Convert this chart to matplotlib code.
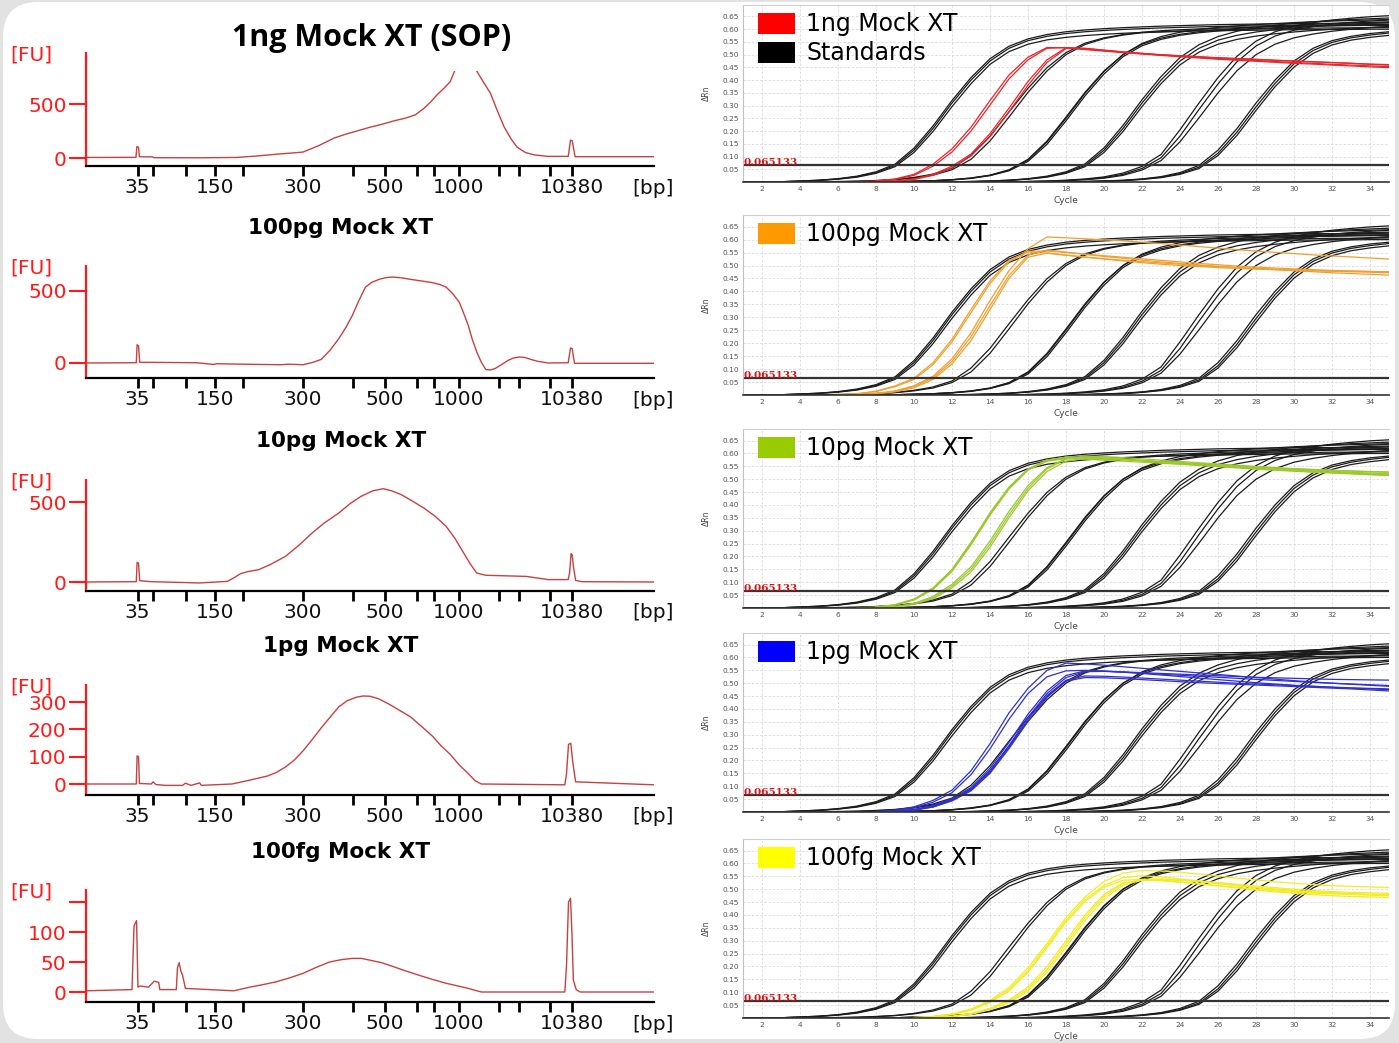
import numpy as np
import matplotlib.pyplot as plt
from matplotlib.patches import FancyBboxPatch, Rectangle

# ---------------- Bioanalyzer traces (migration position vs FU) ----------------
LADDER_BP = [35, 50, 100, 150, 200, 300, 400, 500, 600, 700, 1000, 2000, 3000, 7000, 10380]
LADDER_POS = [9.07, 11.74, 17.55, 22.64, 27.69, 38.2, 46.94, 52.68, 58.35, 61.25, 65.65, 72.73, 76.27, 81.76, 85.55]
LABELED_BP = [35, 150, 300, 500, 1000, 10380]

EPG_1NG_POS = [0, 8.8, 8.95, 9.25, 9.4, 11.0, 11.6, 12.0, 20, 26.4, 30, 33.5, 36, 38.2, 41, 43.7, 45.7, 47.7,
               50, 52.3, 54.3, 56.3, 58, 59.5, 60.7, 61.8, 63, 64.1, 64.9, 66.8, 68.8, 70.0, 71.2, 72.4,
               73.6, 74.8, 75.9, 77.4, 79.0, 81.4, 84.9, 85.3, 85.6, 86.1, 100]
EPG_1NG_FU = [5, 6, 105, 100, 12, 10, 12, 3, 2, 5, 18, 35, 45, 55, 115, 185, 220, 250,
              285, 315, 345, 370, 400, 460, 520, 585, 645, 705, 805, 1000, 805, 700, 600, 440,
              290, 180, 100, 50, 28, 15, 15, 165, 160, 12, 12]

EPG_100PG_POS = [0, 8.85, 9.0, 9.25, 9.45, 19.4, 22.5, 23.0, 27, 34.5, 35.5, 38.2, 40, 41.4, 43, 44.5, 45.8,
                 46.9, 48, 49.2, 50.3, 51.6, 52.7, 53.9, 55.5, 57.1, 59, 61.0, 62.3, 63.4, 64.6, 65.7,
                 66.5, 67.3, 68.0, 68.8, 69.6, 70.4, 71.2, 72.0, 73.2, 74.3, 75.3, 76.3, 77.3, 78.3,
                 79.5, 81.4, 84.9, 85.3, 85.6, 86.0, 100]
EPG_100PG_FU = [0, 2, 127, 120, 5, 2, -10, -5, -8, -12, -8, -12, 5, 25, 90, 169, 250,
                331, 430, 527, 560, 581, 592, 597, 592, 581, 570, 558, 545, 527, 480, 423,
                345, 261, 165, 76, 5, -46, -48, -39, -10, 18, 35, 42, 38, 25,
                12, 0, 2, 104, 100, -2, -2]

EPG_10PG_POS = [0, 8.85, 9.0, 9.25, 9.45, 11.5, 20, 24.9, 26.0, 27.2, 28.5, 30.4, 32.5, 35.1, 37.5, 39.8,
                42, 44.5, 46.5, 48.4, 50.5, 52.3, 53.8, 55.5, 57.5, 59.5, 61.5, 63.4, 65.0, 66.5, 67.7,
                68.8, 70.4, 77.5, 81.4, 84.9, 85.15, 85.4, 85.6, 85.8, 86.2, 87.3, 100]
EPG_10PG_FU = [0, 2, 123, 118, 8, 2, -6, 4, 25, 52, 65, 77, 110, 160, 230, 306,
               370, 431, 490, 535, 570, 583, 570, 546, 505, 462, 410, 348, 270, 181, 110,
               56, 42, 35, 15, 15, 60, 177, 170, 100, 10, 2, 0]

EPG_1PG_POS = [0, 8.85, 9.0, 9.25, 9.4, 11.5, 11.8, 12.3, 14, 17.0, 17.5, 18.5, 20.0, 20.3, 25.7, 28.8,
               31.9, 33.5, 35.1, 36.7, 38.2, 39.8, 41.4, 43.0, 44.5, 46.0, 47.7, 48.8, 50.0, 51.5, 53.2,
               55.0, 57.1, 59.0, 61.0, 62.5, 64.1, 65.7, 67.3, 68.5, 69.6,
               84.3, 84.6, 84.95, 85.35, 85.7, 86.2, 100]
EPG_1PG_FU = [0, 0, 103, 100, 2, 0, 8, -2, -5, -5, 3, -5, 4, -5, 0, 14,
              29, 42, 62, 88, 121, 162, 205, 245, 282, 305, 318, 322, 321, 312, 294,
              272, 246, 212, 175, 140, 109, 70, 38, 12, 0,
              -3, 38, 145, 149, 80, 8, -3]

EPG_100FG_POS = [0, 8.1, 8.45, 8.9, 9.15, 9.5, 11.0, 11.8, 12.0, 12.8, 13.0, 15.9, 16.1, 16.4, 16.7, 17.0,
                 17.5, 26, 28.8, 31, 33.5, 36, 38.2, 40.5, 42.9, 45, 46.9, 48.5, 50.0, 52, 53.9, 56, 58.6,
                 61, 63.2, 65.5, 67.3, 69.6,
                 84.3, 84.6, 84.95, 85.3, 85.55, 85.8, 86.3, 87.0, 100]
EPG_100FG_FU = [2, 4, 110, 119, 8, 10, 8, 16, 18, 16, 4, 4, 40, 49, 35, 28,
                6, 2, 8, 12, 17, 24, 31, 41, 50, 54, 56, 56, 53, 49, 43, 36, 28,
                21, 15, 10, 6, 0,
                0, 45, 150, 156, 99, 20, 4, 0, 0]

# ---------------- qPCR amplification (delta Rn per cycle) ----------------
CYCLES = list(range(1, 36))
THRESHOLD = 0.065133
DRN_TICKS = [0.05, 0.10, 0.15, 0.20, 0.25, 0.30, 0.35, 0.40, 0.45, 0.50, 0.55, 0.60, 0.65]
CYCLE_TICKS = [2, 4, 6, 8, 10, 12, 14, 16, 18, 20, 22, 24, 26, 28, 30, 32, 34]

STD_CT9 = [
    [0.000, 0.000, 0.001, 0.004, 0.007, 0.012, 0.021, 0.037, 0.065, 0.125, 0.210, 0.310, 0.400, 0.475, 0.525,
     0.555, 0.572, 0.583, 0.590, 0.595, 0.599, 0.602, 0.605, 0.607, 0.609, 0.611, 0.612, 0.613, 0.614, 0.615,
     0.616, 0.616, 0.617, 0.617, 0.618],
    [0.000, 0.000, 0.001, 0.004, 0.007, 0.013, 0.023, 0.040, 0.070, 0.133, 0.220, 0.320, 0.410, 0.484, 0.533,
     0.562, 0.579, 0.590, 0.597, 0.602, 0.606, 0.609, 0.612, 0.614, 0.616, 0.618, 0.619, 0.620, 0.621, 0.622,
     0.623, 0.623, 0.624, 0.624, 0.625],
    [0.000, 0.000, 0.001, 0.003, 0.006, 0.011, 0.019, 0.034, 0.060, 0.116, 0.198, 0.296, 0.386, 0.462, 0.512,
     0.541, 0.558, 0.568, 0.575, 0.580, 0.584, 0.587, 0.589, 0.591, 0.593, 0.594, 0.595, 0.596, 0.597, 0.598,
     0.598, 0.599, 0.599, 0.600, 0.600],
]
STD_CT12 = [
    [0.000, 0.000, 0.000, 0.000, 0.001, 0.002, 0.003, 0.006, 0.010, 0.018, 0.031, 0.054, 0.104, 0.180, 0.275,
     0.368, 0.449, 0.508, 0.545, 0.566, 0.579, 0.588, 0.594, 0.598, 0.601, 0.604, 0.606, 0.608, 0.610, 0.611,
     0.612, 0.613, 0.614, 0.615, 0.615],
    [0.000, 0.000, 0.000, 0.000, 0.000, 0.001, 0.003, 0.005, 0.009, 0.016, 0.027, 0.048, 0.089, 0.161, 0.255,
     0.352, 0.436, 0.500, 0.540, 0.563, 0.577, 0.586, 0.590, 0.593, 0.596, 0.598, 0.600, 0.601, 0.602, 0.603,
     0.604, 0.605, 0.605, 0.606, 0.606],
]
STD_CT16 = [
    [0.000, 0.000, 0.000, 0.000, 0.000, 0.000, 0.000, 0.000, 0.001, 0.003, 0.005, 0.009, 0.016, 0.027, 0.048,
     0.089, 0.161, 0.255, 0.352, 0.436, 0.500, 0.541, 0.565, 0.580, 0.590, 0.597, 0.603, 0.608, 0.612, 0.616,
     0.619, 0.622, 0.625, 0.627, 0.629],
    [0.000, 0.000, 0.000, 0.000, 0.000, 0.000, 0.000, 0.000, 0.001, 0.003, 0.005, 0.008, 0.014, 0.025, 0.044,
     0.081, 0.148, 0.240, 0.338, 0.424, 0.492, 0.535, 0.560, 0.576, 0.586, 0.593, 0.598, 0.602, 0.606, 0.609,
     0.612, 0.614, 0.616, 0.618, 0.619],
    [0.000, 0.000, 0.000, 0.000, 0.000, 0.000, 0.000, 0.000, 0.001, 0.003, 0.005, 0.009, 0.015, 0.026, 0.046,
     0.086, 0.157, 0.250, 0.348, 0.434, 0.500, 0.544, 0.571, 0.588, 0.599, 0.607, 0.613, 0.618, 0.622, 0.626,
     0.629, 0.632, 0.634, 0.636, 0.638],
]
STD_CT19 = [
    [0.000, 0.000, 0.000, 0.000, 0.000, 0.000, 0.000, 0.000, 0.000, 0.000, 0.000, 0.000, 0.002, 0.004, 0.007,
     0.012, 0.021, 0.037, 0.065, 0.125, 0.210, 0.310, 0.400, 0.475, 0.525, 0.557, 0.576, 0.589, 0.598, 0.605,
     0.611, 0.616, 0.620, 0.623, 0.626],
    [0.000, 0.000, 0.000, 0.000, 0.000, 0.000, 0.000, 0.000, 0.000, 0.000, 0.000, 0.001, 0.002, 0.004, 0.007,
     0.013, 0.023, 0.040, 0.071, 0.134, 0.222, 0.323, 0.414, 0.489, 0.539, 0.571, 0.592, 0.606, 0.616, 0.623,
     0.629, 0.634, 0.638, 0.641, 0.644],
    [0.000, 0.000, 0.000, 0.000, 0.000, 0.000, 0.000, 0.000, 0.000, 0.000, 0.000, 0.000, 0.001, 0.003, 0.006,
     0.011, 0.019, 0.034, 0.060, 0.116, 0.198, 0.296, 0.386, 0.460, 0.510, 0.541, 0.560, 0.573, 0.582, 0.589,
     0.595, 0.600, 0.604, 0.607, 0.610],
]
STD_CT22 = [
    [0.000, 0.000, 0.000, 0.000, 0.000, 0.000, 0.000, 0.000, 0.000, 0.000, 0.000, 0.000, 0.000, 0.000, 0.000,
     0.002, 0.004, 0.007, 0.012, 0.020, 0.035, 0.061, 0.108, 0.205, 0.310, 0.410, 0.494, 0.553, 0.590, 0.612,
     0.626, 0.636, 0.643, 0.649, 0.653],
    [0.000, 0.000, 0.000, 0.000, 0.000, 0.000, 0.000, 0.000, 0.000, 0.000, 0.000, 0.000, 0.000, 0.000, 0.000,
     0.002, 0.003, 0.006, 0.010, 0.017, 0.030, 0.053, 0.095, 0.180, 0.285, 0.385, 0.472, 0.534, 0.573, 0.596,
     0.610, 0.620, 0.627, 0.632, 0.636],
    [0.000, 0.000, 0.000, 0.000, 0.000, 0.000, 0.000, 0.000, 0.000, 0.000, 0.000, 0.000, 0.000, 0.000, 0.000,
     0.001, 0.003, 0.005, 0.009, 0.015, 0.026, 0.047, 0.084, 0.158, 0.252, 0.350, 0.437, 0.500, 0.541, 0.566,
     0.581, 0.592, 0.600, 0.606, 0.611],
]
STD_CT25 = [
    [0.000, 0.000, 0.000, 0.000, 0.000, 0.000, 0.000, 0.000, 0.000, 0.000, 0.000, 0.000, 0.000, 0.000, 0.000,
     0.000, 0.000, 0.000, 0.002, 0.004, 0.007, 0.012, 0.021, 0.037, 0.065, 0.125, 0.210, 0.310, 0.400, 0.475,
     0.525, 0.555, 0.572, 0.583, 0.590],
    [0.000, 0.000, 0.000, 0.000, 0.000, 0.000, 0.000, 0.000, 0.000, 0.000, 0.000, 0.000, 0.000, 0.000, 0.000,
     0.000, 0.000, 0.000, 0.002, 0.004, 0.006, 0.011, 0.019, 0.033, 0.058, 0.113, 0.196, 0.295, 0.387, 0.464,
     0.516, 0.548, 0.566, 0.577, 0.585],
    [0.000, 0.000, 0.000, 0.000, 0.000, 0.000, 0.000, 0.000, 0.000, 0.000, 0.000, 0.000, 0.000, 0.000, 0.000,
     0.000, 0.000, 0.000, 0.001, 0.003, 0.005, 0.010, 0.017, 0.030, 0.053, 0.104, 0.183, 0.281, 0.374, 0.451,
     0.505, 0.538, 0.557, 0.568, 0.576],
]

# samples: (first cycle, delta Rn from that cycle on)
QPCR_1NG = [
    (7, [0.001, 0.004, 0.012, 0.030, 0.070, 0.130, 0.215, 0.320, 0.420, 0.490, 0.528, 0.527, 0.520, 0.514, 0.508,
         0.503, 0.499, 0.495, 0.491, 0.487, 0.484, 0.481, 0.478, 0.475, 0.472, 0.469, 0.466, 0.463, 0.461]),
    (8, [0.003, 0.010, 0.026, 0.062, 0.118, 0.200, 0.302, 0.405, 0.480, 0.525, 0.528, 0.522, 0.516, 0.510,
         0.505, 0.500, 0.496, 0.492, 0.488, 0.485, 0.482, 0.478, 0.475, 0.472, 0.469, 0.466, 0.462, 0.459]),
    (8, [0.001, 0.004, 0.012, 0.030, 0.062, 0.110, 0.190, 0.290, 0.395, 0.480, 0.527, 0.525, 0.518, 0.511,
         0.505, 0.499, 0.494, 0.489, 0.485, 0.481, 0.477, 0.473, 0.469, 0.466, 0.462, 0.459, 0.456, 0.453]),
    (9, [0.003, 0.010, 0.026, 0.056, 0.102, 0.178, 0.276, 0.380, 0.470, 0.524, 0.524, 0.517, 0.510, 0.503,
         0.497, 0.492, 0.487, 0.482, 0.478, 0.474, 0.470, 0.466, 0.463, 0.459, 0.456, 0.452, 0.449]),
]
QPCR_100PG = [
    (6, [0.001, 0.005, 0.015, 0.035, 0.065, 0.125, 0.215, 0.330, 0.440, 0.520, 0.552, 0.548, 0.540, 0.533, 0.526,
         0.520, 0.515, 0.510, 0.505, 0.500, 0.496, 0.492, 0.489, 0.486, 0.483, 0.480, 0.478, 0.476, 0.474, 0.472]),
    (6, [0.001, 0.004, 0.013, 0.032, 0.060, 0.117, 0.205, 0.318, 0.430, 0.515, 0.555, 0.556, 0.550, 0.544, 0.538,
         0.532, 0.526, 0.520, 0.514, 0.508, 0.503, 0.498, 0.494, 0.490, 0.487, 0.484, 0.481, 0.479, 0.477, 0.475]),
    (7, [0.002, 0.006, 0.016, 0.036, 0.072, 0.140, 0.240, 0.365, 0.480, 0.565, 0.610, 0.607, 0.603, 0.599, 0.595,
         0.590, 0.585, 0.579, 0.573, 0.567, 0.561, 0.556, 0.551, 0.546, 0.541, 0.537, 0.533, 0.529, 0.525]),
    (7, [0.002, 0.005, 0.014, 0.032, 0.066, 0.130, 0.225, 0.345, 0.462, 0.540, 0.560, 0.552, 0.543, 0.535, 0.528,
         0.521, 0.514, 0.508, 0.502, 0.497, 0.492, 0.488, 0.484, 0.480, 0.476, 0.472, 0.469, 0.466, 0.463]),
    (7, [0.001, 0.004, 0.012, 0.028, 0.060, 0.120, 0.210, 0.330, 0.450, 0.532, 0.548, 0.540, 0.532, 0.525, 0.518,
         0.511, 0.505, 0.500, 0.496, 0.492, 0.489, 0.486, 0.484, 0.482, 0.480, 0.479, 0.478, 0.477, 0.476]),
]
QPCR_10PG = [
    (7, [0.001, 0.004, 0.013, 0.035, 0.078, 0.150, 0.255, 0.370, 0.470, 0.540, 0.575, 0.585, 0.583, 0.580, 0.577,
         0.573, 0.569, 0.565, 0.561, 0.557, 0.553, 0.549, 0.545, 0.541, 0.538, 0.535, 0.532, 0.529, 0.527]),
    (8, [0.003, 0.011, 0.031, 0.072, 0.142, 0.245, 0.360, 0.462, 0.535, 0.572, 0.586, 0.585, 0.582, 0.578,
         0.573, 0.568, 0.563, 0.558, 0.553, 0.548, 0.543, 0.539, 0.535, 0.531, 0.527, 0.524, 0.521, 0.518]),
    (8, [0.003, 0.012, 0.033, 0.075, 0.146, 0.250, 0.365, 0.466, 0.537, 0.570, 0.580, 0.578, 0.574, 0.570,
         0.566, 0.562, 0.558, 0.554, 0.550, 0.546, 0.542, 0.538, 0.534, 0.530, 0.526, 0.522, 0.518, 0.515]),
    (8, [0.002, 0.006, 0.018, 0.045, 0.092, 0.160, 0.260, 0.375, 0.475, 0.545, 0.580, 0.590, 0.588, 0.584,
         0.579, 0.574, 0.569, 0.564, 0.559, 0.554, 0.549, 0.544, 0.539, 0.535, 0.531, 0.527, 0.524, 0.521]),
    (8, [0.001, 0.005, 0.016, 0.040, 0.085, 0.150, 0.248, 0.362, 0.465, 0.540, 0.578, 0.586, 0.583, 0.578,
         0.572, 0.566, 0.560, 0.554, 0.549, 0.544, 0.539, 0.535, 0.531, 0.527, 0.524, 0.521, 0.518, 0.515]),
    (9, [0.004, 0.014, 0.036, 0.078, 0.140, 0.236, 0.350, 0.455, 0.530, 0.570, 0.580, 0.578, 0.575, 0.571,
         0.567, 0.563, 0.559, 0.555, 0.551, 0.547, 0.543, 0.540, 0.537, 0.534, 0.532, 0.530, 0.528]),
]
QPCR_1PG = [
    (8, [0.002, 0.007, 0.020, 0.045, 0.085, 0.160, 0.265, 0.385, 0.480, 0.550, 0.578, 0.575, 0.570, 0.564,
         0.558, 0.552, 0.546, 0.540, 0.534, 0.528, 0.522, 0.516, 0.510, 0.505, 0.500, 0.496, 0.492, 0.488]),
    (8, [0.001, 0.005, 0.016, 0.038, 0.075, 0.145, 0.245, 0.360, 0.460, 0.525, 0.548, 0.550, 0.547, 0.544,
         0.541, 0.538, 0.535, 0.532, 0.529, 0.526, 0.523, 0.521, 0.519, 0.517, 0.515, 0.514, 0.513, 0.512]),
    (8, [0.001, 0.003, 0.010, 0.025, 0.052, 0.095, 0.170, 0.270, 0.380, 0.470, 0.530, 0.548, 0.547, 0.543,
         0.538, 0.532, 0.526, 0.520, 0.514, 0.508, 0.502, 0.497, 0.492, 0.488, 0.484, 0.481, 0.478, 0.475]),
    (9, [0.003, 0.009, 0.022, 0.048, 0.090, 0.160, 0.258, 0.368, 0.460, 0.522, 0.545, 0.546, 0.543, 0.539,
         0.535, 0.531, 0.527, 0.523, 0.519, 0.515, 0.511, 0.507, 0.503, 0.500, 0.497, 0.494, 0.491]),
    (9, [0.002, 0.008, 0.020, 0.045, 0.086, 0.155, 0.252, 0.360, 0.452, 0.512, 0.528, 0.527, 0.524, 0.520,
         0.516, 0.512, 0.508, 0.504, 0.500, 0.497, 0.494, 0.491, 0.488, 0.485, 0.482, 0.480, 0.478]),
    (9, [0.002, 0.007, 0.019, 0.043, 0.082, 0.150, 0.246, 0.352, 0.445, 0.508, 0.522, 0.521, 0.518, 0.514,
         0.510, 0.506, 0.502, 0.499, 0.496, 0.493, 0.490, 0.487, 0.484, 0.481, 0.478, 0.474, 0.470]),
]
QPCR_100FG = [
    (10, [0.002, 0.006, 0.016, 0.035, 0.068, 0.118, 0.195, 0.290, 0.390, 0.470, 0.530, 0.563, 0.572, 0.571,
          0.566, 0.559, 0.551, 0.543, 0.536, 0.529, 0.523, 0.518, 0.514, 0.511, 0.509, 0.507]),
    (10, [0.002, 0.005, 0.014, 0.032, 0.063, 0.110, 0.185, 0.280, 0.380, 0.460, 0.515, 0.545, 0.552, 0.548,
          0.540, 0.531, 0.522, 0.513, 0.505, 0.498, 0.492, 0.488, 0.485, 0.482, 0.480, 0.478]),
    (10, [0.001, 0.005, 0.013, 0.030, 0.060, 0.105, 0.178, 0.272, 0.372, 0.452, 0.508, 0.535, 0.538, 0.534,
          0.528, 0.521, 0.514, 0.507, 0.500, 0.494, 0.489, 0.485, 0.482, 0.479, 0.477, 0.475]),
    (11, [0.002, 0.007, 0.018, 0.038, 0.070, 0.120, 0.200, 0.300, 0.400, 0.480, 0.525, 0.535, 0.533, 0.528,
          0.521, 0.513, 0.505, 0.497, 0.490, 0.484, 0.479, 0.475, 0.472, 0.470, 0.468]),
    (11, [0.002, 0.006, 0.016, 0.035, 0.065, 0.112, 0.188, 0.288, 0.390, 0.472, 0.522, 0.538, 0.540, 0.537,
          0.532, 0.526, 0.519, 0.512, 0.506, 0.500, 0.495, 0.491, 0.488, 0.486, 0.484]),
    (11, [0.001, 0.005, 0.014, 0.032, 0.060, 0.105, 0.178, 0.276, 0.378, 0.462, 0.516, 0.535, 0.537, 0.534,
          0.529, 0.522, 0.515, 0.508, 0.501, 0.495, 0.490, 0.486, 0.483, 0.480, 0.478]),
]

STANDARDS = STD_CT9 + STD_CT12 + STD_CT16 + STD_CT19 + STD_CT22 + STD_CT25

W, H = 1399, 1043
RED = '#ff1a1a'
TRACE = '#c44242'

fig = plt.figure(figsize=(W / 100, H / 100), dpi=100)
fig.patch.set_facecolor('#e2e2e2')
fig.patches.append(FancyBboxPatch((3 / W, 4 / H), (W - 7) / W, (H - 6) / H,
                                  boxstyle='round,pad=0,rounding_size=0.025', mutation_aspect=W / H,
                                  transform=fig.transFigure, facecolor='white', edgecolor='none', zorder=-10))


def axes_px(left, top, right, bottom):
    return fig.add_axes([left / W, 1 - bottom / H, (right - left) / W, (bottom - top) / H])


def fig_text(x, y, s, **kw):
    return fig.text(x / W, 1 - y / H, s, **kw)


def draw_trace(title, title_y, pos, fu, top, zero, bottom, fu_per_px, yticks, ylabels, clip_fu=None):
    ax = axes_px(86, top, 654, bottom)
    ax.set_facecolor('none')
    ax.set_xlim(0, 100)
    ymin = -(bottom - zero) * fu_per_px
    ax.set_ylim(ymin, (zero - top) * fu_per_px)
    line, = ax.plot(pos, fu, color=TRACE, lw=1.0)
    if clip_fu is not None:
        line.set_clip_path(Rectangle((0, ymin), 100, clip_fu - ymin, transform=ax.transData))
    for s in ('top', 'right'):
        ax.spines[s].set_visible(False)
    ax.spines['left'].set_color(RED)
    ax.spines['left'].set_linewidth(1.6)
    ax.spines['bottom'].set_color('black')
    ax.spines['bottom'].set_linewidth(1.6)
    ax.set_xticks(LADDER_POS)
    ax.set_xticklabels([str(b) if b in LABELED_BP else '' for b in LADDER_BP], fontsize=14.5, color='#111')
    ax.tick_params(axis='x', direction='out', length=7, width=2, pad=1.5, color='black')
    ax.set_yticks(yticks)
    ax.set_yticklabels(ylabels, fontsize=14.5, color=RED)
    ax.tick_params(axis='y', direction='out', length=12, width=1.5, pad=2, color=RED)
    fig_text(10, top + 2, '[FU]', color=RED, fontsize=14.5, va='center', ha='left')
    fig_text(632, bottom + 22, '[bp]', color='#111', fontsize=14.5, va='center', ha='left')
    if title is not None:
        fig_text(341, title_y, title, fontsize=15.5, weight='bold', ha='center', va='center')
    return ax


def draw_qpcr(top, bottom, samples, color, box_color, label, with_standards_key=False):
    ax = axes_px(743, top, 1389, bottom)
    ax.set_xlim(1, 35)
    ax.set_ylim(0, 0.695)
    ax.set_xticks(CYCLE_TICKS)
    ax.set_yticks(DRN_TICKS)
    ax.yaxis.set_major_formatter('{x:.2f}')
    ax.grid(True, color='#d9d9d9', lw=0.6, ls=(0, (3, 2)))
    ax.set_axisbelow(True)
    ax.tick_params(labelsize=5.3, colors='#555', length=0, pad=3)
    ax.spines['right'].set_visible(False)
    ax.spines['top'].set_color('#d0d0d0')
    ax.spines['left'].set_color('#c0c0c0')
    ax.spines['bottom'].set_color('#333')
    ax.spines['bottom'].set_linewidth(1.2)
    for curve in STANDARDS:
        ax.plot(CYCLES, curve, color='#1c1c1c', lw=0.9)
    for start, vals in samples:
        ax.plot(np.arange(start, start + len(vals)), vals, color=color, lw=0.9)
    ax.axhline(THRESHOLD, color='#333', lw=1.6)
    ax.text(1.02, THRESHOLD - 0.006, '0.065133', color='#e01010', family='serif', fontsize=7.5,
            weight='bold', va='bottom')
    ax.set_xlabel('Cycle', fontsize=6.5, color='#444', labelpad=3)
    fig_text(706, (top + bottom) / 2, 'ΔRn', fontsize=5.5, color='#444', rotation=90, ha='center', va='center')

    fig.patches.append(Rectangle((758 / W, 1 - (top + 29) / H), 37 / W, 21 / H,
                                 transform=fig.transFigure, facecolor=box_color, edgecolor='none'))
    fig_text(806, top + 19, label, fontsize=17, va='center', ha='left')
    if with_standards_key:
        fig.patches.append(Rectangle((758 / W, 1 - (top + 58) / H), 37 / W, 21 / H,
                                     transform=fig.transFigure, facecolor='black', edgecolor='none'))
        fig_text(806, top + 48, 'Standards', fontsize=17, va='center', ha='left')
    return ax


# left column: Bioanalyzer traces
draw_trace(None, 0, EPG_1NG_POS, EPG_1NG_FU, 53, 158, 166, 500 / 54, [0, 500], ['0', '500'], clip_fu=805)
fig_text(372, 38, '1ng Mock XT (SOP)', fontsize=22, family='Open Sans', weight='bold',
         ha='center', va='center')
draw_trace('100pg Mock XT', 228, EPG_100PG_POS, EPG_100PG_FU, 266, 363, 378, 500 / 72,
           [0, 500], ['0', '500'])
draw_trace('10pg Mock XT', 441, EPG_10PG_POS, EPG_10PG_FU, 480, 582, 591, 500 / 80,
           [0, 500], ['0', '500'])
draw_trace('1pg Mock XT', 646, EPG_1PG_POS, EPG_1PG_FU, 685, 784, 795, 300 / 82,
           [0, 100, 200, 300], ['0', '100', '200', '300'])
draw_trace('100fg Mock XT', 852, EPG_100FG_POS, EPG_100FG_FU, 890, 992, 1002, 100 / 60,
           [0, 50, 100, 150], ['0', '50', '100', ''])

# right column: qPCR amplification plots
draw_qpcr(5, 182, QPCR_1NG, '#e8262b', '#ff0000', '1ng Mock XT', with_standards_key=True)
draw_qpcr(215, 395, QPCR_100PG, '#f0a030', '#ff9900', '100pg Mock XT')
draw_qpcr(429, 608, QPCR_10PG, '#9cc82e', '#99cc00', '10pg Mock XT')
draw_qpcr(633, 812, QPCR_1PG, '#3030d0', '#0000ff', '1pg Mock XT')
draw_qpcr(839, 1018, QPCR_100FG, '#f2ec22', '#ffff00', '100fg Mock XT')

fig.savefig('out.png', dpi=100)
